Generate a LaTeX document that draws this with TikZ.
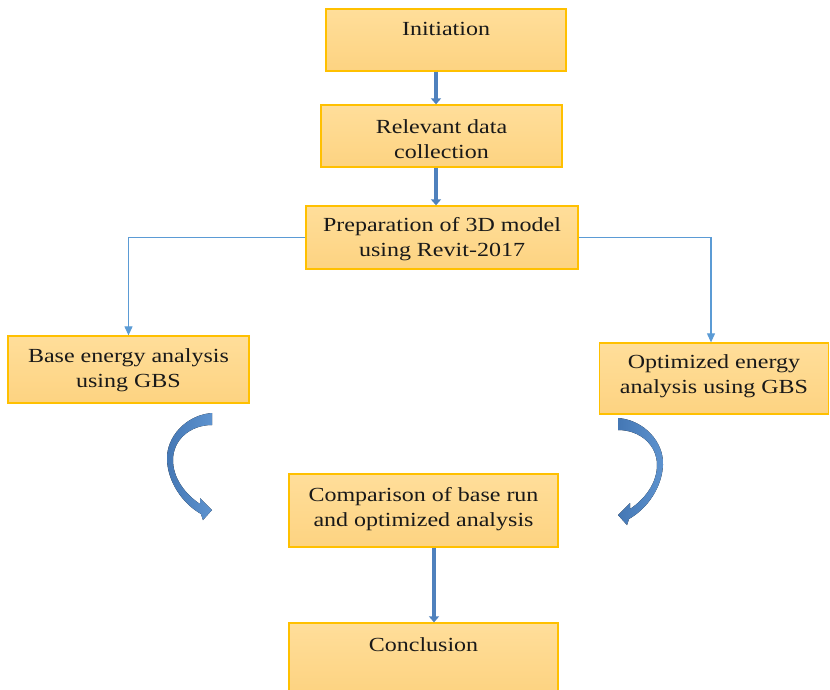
\documentclass[tikz,border=0pt]{standalone}
\usepackage{fontspec}
\setmainfont[FakeStretch=1.2]{Liberation Serif}
\usetikzlibrary{arrows.meta}
\definecolor{boxtop}{HTML}{FFDE9A}
\definecolor{boxbot}{HTML}{FDD381}
\definecolor{boxline}{HTML}{FFC000}
\definecolor{thickblue}{HTML}{4F81BD}
\definecolor{thinblue}{HTML}{5B9BD5}
\definecolor{curvedark}{HTML}{4477B4}
\definecolor{curvelight}{HTML}{5E93CF}
\begin{document}
\begin{tikzpicture}[x=1pt,y=-1pt,
  box/.style={draw=boxline, line width=1.3pt, top color=boxtop, bottom color=boxbot, inner sep=0pt},
  lbl/.style={font=\fontsize{20}{25}\selectfont, align=center, inner sep=0pt, text=black!90},
  bigarrow/.style={draw=thickblue, line width=4.5pt, -{Triangle[width=10pt,length=6pt]}},
  thinarrow/.style={draw=thinblue, line width=1.1pt, -{Triangle[width=8pt,length=9pt]}},
  curvedarrow/.style={left color=curvedark, right color=curvelight, draw=none}]
\useasboundingbox (0,0) rectangle (830,689);

% boxes
\node[box, minimum width=240pt, minimum height=62pt] (init) at (446,40) {};
\node[box, minimum width=241pt, minimum height=62pt] (rel) at (441.5,136) {};
\node[box, minimum width=272pt, minimum height=63pt] (prep) at (442,237.5) {};
\node[box, minimum width=241pt, minimum height=67pt] (base) at (128.5,369.5) {};
\node[box, minimum width=229pt, minimum height=71pt] (opt) at (714,378.5) {};
\node[box, minimum width=269pt, minimum height=73pt] (comp) at (423.5,510.5) {};
\node[box, minimum width=269pt, minimum height=70pt] (concl) at (423.5,658) {};

% labels
\node[lbl] (initL) at (446,28.5) {Initiation};
\node[lbl] (relL) at (441.5,139) {Relevant data\\collection};
\node[lbl] (prepL) at (442,239) {Preparation of 3D model\\using Revit-2017};
\node[lbl] (baseL) at (128.5,370) {Base energy analysis\\using GBS};
\node[lbl] (optL) at (714,376) {Optimized energy\\analysis using GBS};
\node[lbl] (compL) at (423.5,509) {Comparison of base run\\and optimized analysis};
\node[lbl] (conclL) at (423.5,644.5) {Conclusion};

% thick straight arrows
\draw[bigarrow] ([xshift=-10pt]init.south) -- ([xshift=-10pt]init.south |- rel.north);
\draw[bigarrow] ([xshift=-5.5pt]rel.south) -- ([xshift=-5.5pt]rel.south |- prep.north);
\draw[bigarrow] ([xshift=10.5pt]comp.south) -- ([xshift=10.5pt]comp.south |- concl.north);

% thin elbow arrows
\draw[thinarrow] (prep.west) -| (base.north);
\draw[thinarrow] (prep.east) -| ([xshift=-3pt]opt.north);

% curved arrows
\fill[curvedarrow] (212,413) .. controls (186,415) and (166,437) .. (167,460)
  .. controls (168,482) and (182,503) .. (201,514) -- (203,520) -- (212,510) -- (200,498) -- (200,504)
  .. controls (185,494) and (173,478) .. (173,460)
  .. controls (173,440) and (190,425) .. (212,425) -- cycle;
\begin{scope}[xshift=830pt, xscale=-1, yshift=-5pt]
\fill[curvedarrow] (212,413) .. controls (186,415) and (166,437) .. (167,460)
  .. controls (168,482) and (182,503) .. (201,514) -- (203,520) -- (212,510) -- (200,498) -- (200,504)
  .. controls (185,494) and (173,478) .. (173,460)
  .. controls (173,440) and (190,425) .. (212,425) -- cycle;
\end{scope}
\end{tikzpicture}
\end{document}
